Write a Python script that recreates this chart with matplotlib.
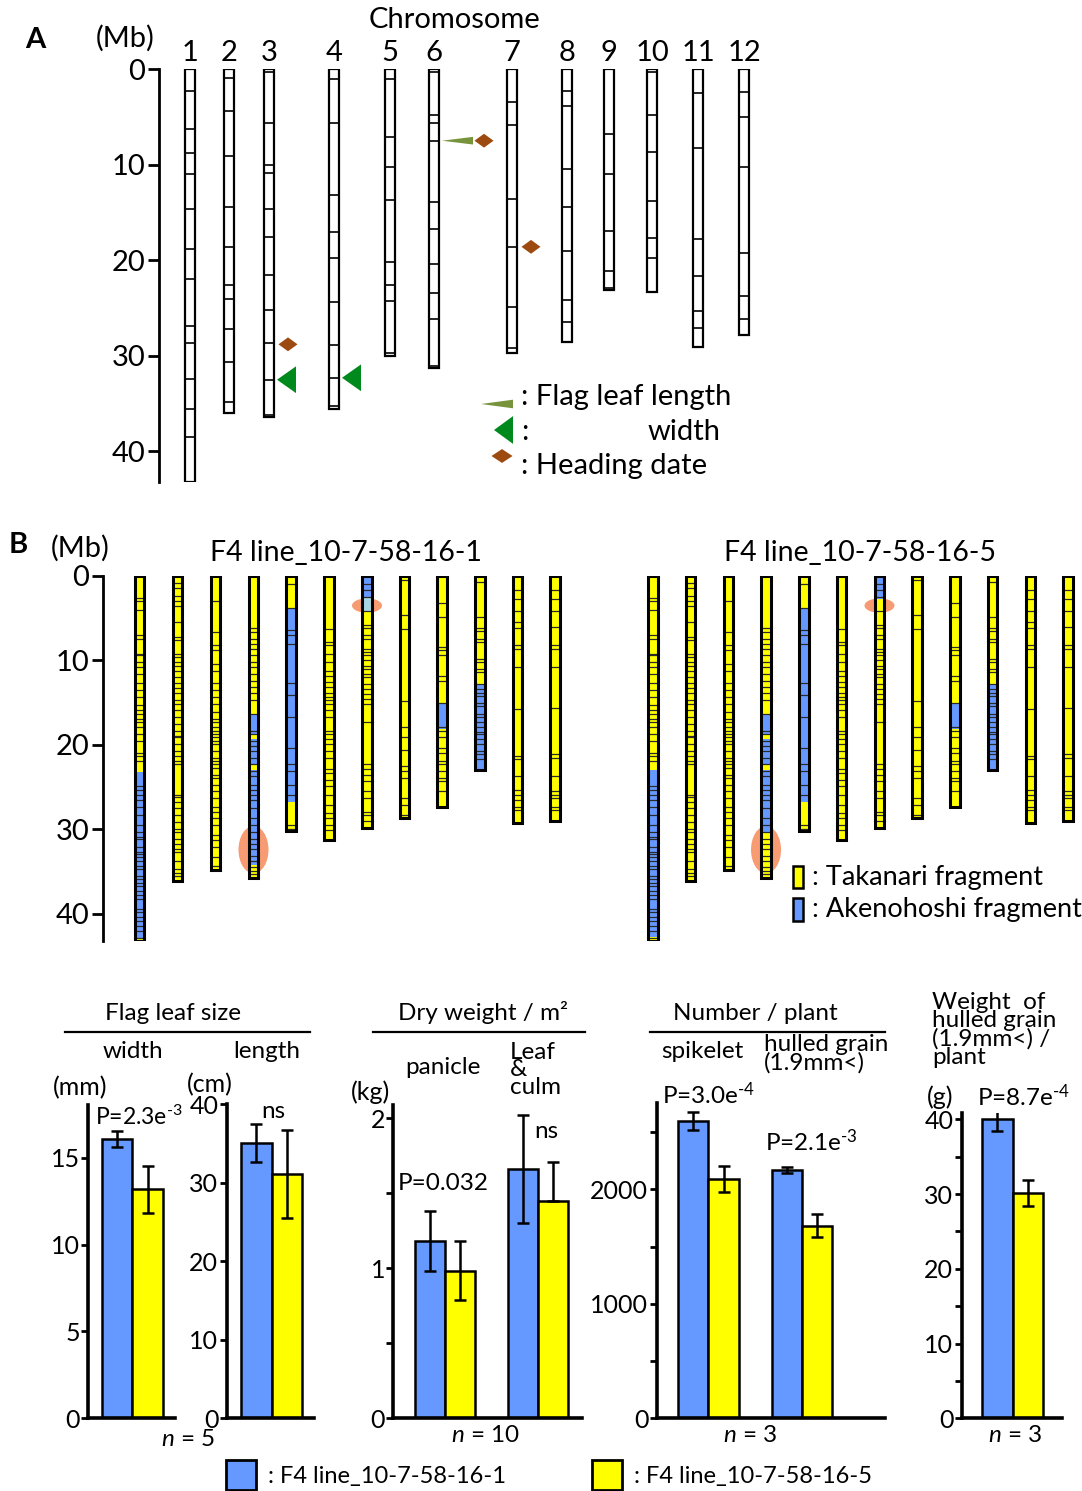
import matplotlib
matplotlib.use("Agg")
import matplotlib.pyplot as plt
from matplotlib.patches import Rectangle, Polygon, Ellipse
from matplotlib.lines import Line2D

plt.rcParams['font.family'] = ['Lato', 'DejaVu Sans']
plt.rcParams['mathtext.fontset'] = 'custom'
plt.rcParams['mathtext.rm'] = 'Lato'
plt.rcParams['mathtext.it'] = 'Lato:italic'

W, H = 1082, 1491

# --- Panel A data: chromosome map (Mb) ---
chrom_names = ['1', '2', '3', '4', '5', '6', '7', '8', '9', '10', '11', '12']
chrom_len_a = [43.2, 36.0, 36.4, 35.6, 30.0, 31.3, 29.75, 28.6, 23.1, 23.3, 29.1, 27.8]
markers_a = [
    [2.3, 6.3, 8.8, 11.0, 14.6, 18.8, 22.0, 26.9, 28.7, 32.4, 35.6, 38.5],
    [0.9, 4.4, 9.1, 14.4, 18.6, 22.6, 24.1, 27.2, 30.7, 34.8],
    [0.35, 5.6, 10.0, 10.9, 14.6, 17.6, 21.5, 25.2, 28.7, 32.5, 36.2],
    [1.0, 5.7, 13.2, 17.0, 19.8, 24.4, 28.9, 32.3, 35.3],
    [1.0, 7.1, 10.3, 13.7, 20.2, 22.6, 24.3, 29.7],
    [0.3, 4.8, 5.7, 7.5, 13.9, 16.7, 20.4, 23.4, 26.2, 31.1],
    [3.4, 5.9, 13.6, 18.6, 24.9, 29.2],
    [2.3, 3.9, 10.5, 14.4, 19.0, 24.2, 26.5],
    [6.8, 11.0, 16.9, 21.1, 22.9],
    [0.3, 4.8, 8.7, 13.8, 17.7, 19.8],
    [2.5, 8.3, 17.8, 21.7, 25.3, 27.1],
    [2.4, 5.0, 10.2, 19.2, 23.7, 26.2],
]
qtl_heading = [(3, 28.8), (6, 7.5), (7, 18.6)]
qtl_width = [(3, 32.5), (4, 32.3)]
qtl_length = [(6, 7.5)]

# --- Panel B data: graphical genotypes ---
chrom_len_b = [43.2, 36.1, 34.8, 35.7, 30.2, 31.3, 29.8, 28.6, 27.3, 23.0, 29.2, 29.0]
markers_b = [
    [2.6, 2.9, 4.0, 7.0, 7.4, 9.2, 9.4, 10.2, 10.8, 11.6, 12.7, 13.5, 14.3, 15.3, 15.9, 16.3, 16.9,
     17.3, 17.9, 18.7, 19.5, 20.9, 21.3, 21.9, 24.9, 25.3, 25.9, 26.5, 27.3, 28.3, 29.5, 30.3, 30.9,
     31.1, 32.1, 32.7, 32.9, 33.3, 33.7, 34.3, 34.7, 35.5, 35.9, 36.3, 36.7, 37.3, 37.8, 38.2, 39.4,
     39.8, 40.4, 40.8, 41.4, 42.0, 42.8],
    [0.8, 1.4, 2.4, 3.0, 3.6, 5.4, 7.2, 7.6, 9.2, 9.6, 10.2, 10.6, 11.2, 12.0, 12.7, 13.3, 13.9,
     14.7, 15.1, 15.9, 16.7, 17.5, 18.3, 18.9, 19.1, 19.9, 20.7, 21.3, 21.9, 22.3, 25.9, 26.1, 26.7,
     27.5, 28.3, 29.1, 29.9, 30.3, 31.1, 31.7, 32.3, 32.7, 33.7, 34.7, 35.1, 35.5],
    [3.0, 6.6, 8.2, 8.8, 10.4, 11.2, 12.7, 13.5, 14.3, 15.1, 16.1, 16.9, 17.3, 17.9, 18.3, 18.7,
     19.1, 19.5, 19.9, 20.7, 21.5, 21.9, 22.3, 22.7, 23.5, 23.9, 24.7, 25.5, 26.3, 27.3, 27.9, 28.7,
     29.5, 30.7, 31.3, 32.1, 33.3, 34.3],
    [6.2, 6.6, 7.4, 8.0, 8.6, 9.4, 10.2, 10.8, 11.6, 12.4, 13.1, 13.9, 14.7, 16.3, 18.3, 18.7, 19.5,
     20.1, 20.7, 21.5, 22.3, 23.1, 23.7, 24.7, 25.3, 25.9, 26.5, 27.5, 28.7, 29.5, 30.3, 31.1, 31.7,
     32.3, 33.1, 33.7, 34.5, 34.9, 35.3],
    [1.0, 3.8, 6.4, 7.0, 8.0, 12.7, 14.1, 16.7, 20.3, 22.3, 23.1, 24.7, 25.9, 29.5, 29.9],
    [6.3, 7.8, 8.2, 9.2, 10.2, 11.2, 11.8, 12.5, 13.1, 13.9, 14.3, 14.7, 15.1, 15.9, 16.7, 18.3,
     18.7, 19.3, 19.9, 20.7, 21.5, 22.9, 23.3, 24.1, 24.9, 25.9, 27.1, 28.1, 28.7, 29.5, 30.1],
    [0.9, 1.7, 2.5, 4.2, 5.8, 6.2, 7.0, 7.4, 8.6, 9.0, 9.4, 10.0, 10.6, 11.0, 11.6, 12.0, 12.8,
     13.4, 14.0, 14.6, 15.2, 17.3, 22.3, 22.9, 23.5, 24.3, 25.5, 26.3, 27.9, 28.3, 29.0],
    [0.5, 4.6, 6.3, 14.8, 17.9, 19.1, 20.6, 22.5, 23.1, 23.9, 26.3, 27.1, 28.3],
    [3.2, 4.8, 8.4, 8.8, 9.4, 11.8, 12.4, 15.0, 17.9, 18.3, 19.1, 20.3, 20.9, 21.9, 22.3, 23.1,
     23.9, 24.3, 25.5],
    [0.7, 4.8, 6.2, 6.5, 7.4, 7.8, 9.8, 10.2, 11.0, 11.4, 12.8, 13.4, 13.8, 14.2, 15.0, 15.4, 16.3,
     16.7, 17.3, 17.9, 18.5, 18.7, 19.3, 19.9, 20.7, 21.1, 21.7],
    [1.6, 2.7, 4.2, 5.4, 6.2, 8.2, 8.6, 10.8, 15.8, 21.3, 21.7, 23.7, 25.3, 25.9, 26.5, 27.3, 27.7],
    [1.6, 2.7, 4.2, 6.0, 8.2, 8.6, 10.8, 15.6, 21.1, 21.5, 23.7, 25.4, 25.9, 26.3, 27.3, 27.7],
]
# segments (start, end, genotype): T = Takanari, A = Akenohoshi, H = heterozygous
geno_line1 = [
    [(0, 23.2, 'T'), (23.2, 42.8, 'A'), (42.8, 43.2, 'T')],
    [(0, 36.1, 'T')],
    [(0, 34.8, 'T')],
    [(0, 16.3, 'T'), (16.3, 18.8, 'A'), (18.8, 19.3, 'T'), (19.3, 22.4, 'A'), (22.4, 23.0, 'T'),
     (23.0, 34.2, 'A'), (34.2, 35.7, 'T')],
    [(0, 3.8, 'T'), (3.8, 26.7, 'A'), (26.7, 30.2, 'T')],
    [(0, 31.3, 'T')],
    [(0, 2.6, 'A'), (2.6, 4.2, 'H'), (4.2, 29.8, 'T')],
    [(0, 28.6, 'T')],
    [(0, 15.0, 'T'), (15.0, 18.1, 'A'), (18.1, 27.3, 'T')],
    [(0, 12.8, 'T'), (12.8, 23.0, 'A')],
    [(0, 29.2, 'T')],
    [(0, 29.0, 'T')],
]
geno_line2 = [
    [(0, 23.0, 'T'), (23.0, 42.7, 'A'), (42.7, 43.2, 'T')],
    [(0, 36.1, 'T')],
    [(0, 34.8, 'T')],
    [(0, 16.4, 'T'), (16.4, 18.8, 'A'), (18.8, 19.3, 'T'), (19.3, 22.4, 'A'), (22.4, 23.0, 'T'),
     (23.0, 30.3, 'A'), (30.3, 35.7, 'T')],
    [(0, 3.95, 'T'), (3.95, 26.7, 'A'), (26.7, 30.2, 'T')],
    [(0, 31.3, 'T')],
    [(0, 2.7, 'A'), (2.7, 29.8, 'T')],
    [(0, 28.6, 'T')],
    [(0, 15.1, 'T'), (15.1, 18.1, 'A'), (18.1, 27.3, 'T')],
    [(0, 12.8, 'T'), (12.8, 23.0, 'A')],
    [(0, 29.2, 'T')],
    [(0, 29.0, 'T')],
]
qtl_regions_b = [(4, 32.4, 5.6), (7, 3.5, 1.7)]  # chrom, centre Mb, span Mb

# --- Bar chart data (mean, sd) ---
line_names = ['F4 line_10-7-58-16-1', 'F4 line_10-7-58-16-5']
flag_width = [16.1, 13.2]
flag_width_sd = [0.45, 1.35]
flag_length = [35.1, 31.1]
flag_length_sd = [2.4, 5.6]
dw_panicle = [1.18, 0.985]
dw_panicle_sd = [0.2, 0.195]
dw_leaf = [1.66, 1.45]
dw_leaf_sd = [0.36, 0.26]
n_spikelet = [2597, 2090]
n_spikelet_sd = [82, 110]
n_grain = [2169, 1682]
n_grain_sd = [30, 100]
grain_wt = [40.0, 30.15]
grain_wt_sd = [1.55, 1.7]

BLUE = '#6699FF'
YELLOW = '#FFFF00'
LIGHTBLUE = '#A9D6E5'
GENO_COL = {'T': YELLOW, 'A': BLUE, 'H': LIGHTBLUE}

FS_BIG = 21      # panel A / B labels
FS_BAR = 17.5    # bar chart labels

fig = plt.figure(figsize=(W / 100, H / 100), dpi=100)


def px_axes(left, top, right, bottom):
    return fig.add_axes([left / W, 1 - bottom / H, (right - left) / W, (bottom - top) / H])


def ftext(x, y, s, **kw):
    kw.setdefault('fontsize', FS_BAR)
    kw.setdefault('va', 'center')
    fig.text(x / W, 1 - y / H, s, **kw)


def fline(x1, x2, y):
    fig.add_artist(Line2D([x1 / W, x2 / W], [1 - y / H, 1 - y / H], color='black', lw=1.6,
                          transform=fig.transFigure))


def left_triangle(ax, x_tip, y, w, h, color):
    ax.add_patch(Polygon([(x_tip, y), (x_tip + w, y - h / 2), (x_tip + w, y + h / 2)],
                         closed=True, fc=color, ec='none', zorder=4))


def diamond(ax, xc, y, w, h, color):
    ax.add_patch(Polygon([(xc - w / 2, y), (xc, y - h / 2), (xc + w / 2, y), (xc, y + h / 2)],
                         closed=True, fc=color, ec='none', zorder=4))


# ---------------- Panel A ----------------
A_TOP, A_BOT, A_LEN = 69, 482, 43.2
a_mb = lambda ypx: (ypx - A_TOP) / (A_BOT - A_TOP) * A_LEN
chr_x_a = [190, 229, 269, 334, 390, 434, 512, 567, 609, 652, 698, 744]
axA = px_axes(159, A_TOP, W, A_BOT)
axA.set_xlim(159, W)
axA.set_ylim(A_LEN, 0)
for s in ['top', 'right', 'bottom']:
    axA.spines[s].set_visible(False)
axA.spines['left'].set_linewidth(2)
axA.set_xticks([])
axA.set_yticks([0, 10, 20, 30, 40])
axA.tick_params(axis='y', direction='out', length=8, width=2, labelsize=FS_BIG, pad=2)
w_a = 9.5
for i, x in enumerate(chr_x_a):
    axA.add_patch(Rectangle((x - w_a / 2, 0), w_a, chrom_len_a[i], fc='white', ec='black', lw=1.6, zorder=2))
    axA.hlines(markers_a[i], x - w_a / 2, x + w_a / 2, color='black', lw=1.2, zorder=3)
    axA.text(x, -0.3, chrom_names[i], ha='center', va='bottom', fontsize=FS_BIG)

OLIVE, GREEN, BROWN = '#77933C', '#008A1E', '#9C4A0F'
for c, mb in qtl_width:
    left_triangle(axA, chr_x_a[c - 1] + 8, mb, 19, 2.8, GREEN)
for c, mb in qtl_length:
    left_triangle(axA, chr_x_a[c - 1] + 8, mb, 31, 0.8, OLIVE)
for c, mb in qtl_heading:
    off = 50 if (c, mb) in [(q[0], q[1]) for q in qtl_length] else 19
    diamond(axA, chr_x_a[c - 1] + off, mb, 19, 1.45, BROWN)

# legend A
left_triangle(axA, 481, a_mb(404), 32, 0.9, OLIVE)
left_triangle(axA, 494, a_mb(430), 19, 2.9, GREEN)
diamond(axA, 502, a_mb(456), 21, 1.45, BROWN)
ftext(521, 397, ': Flag leaf length', fontsize=FS_BIG)
ftext(521, 432, ':', fontsize=FS_BIG)
ftext(648, 432, 'width', fontsize=FS_BIG)
ftext(521, 466, ': Heading date', fontsize=FS_BIG)

ftext(454, 20, 'Chromosome', ha='center', fontsize=FS_BIG)
ftext(125, 38, '(Mb)', ha='center', fontsize=FS_BIG)
ftext(35, 40, 'A', ha='center', fontsize=21, fontweight='bold')

# ---------------- Panel B ----------------
B_TOP, B_BOT, B_LEN = 576, 941, 43.2
b_mb = lambda ypx: (ypx - B_TOP) / (B_BOT - B_TOP) * B_LEN
chr_x_b1 = [139.5, 177.5, 215.5, 253.5, 291, 329, 367, 404.5, 442, 480, 517.5, 555]
chr_x_b2 = [653, 690.5, 728.5, 766, 804, 841.5, 879.5, 917, 955, 992.5, 1030.5, 1068]
axB = px_axes(103, B_TOP, W, B_BOT)
axB.set_xlim(103, W)
axB.set_ylim(B_LEN, 0)
for s in ['top', 'right', 'bottom']:
    axB.spines[s].set_visible(False)
axB.spines['left'].set_linewidth(2)
axB.set_xticks([])
axB.set_yticks([0, 10, 20, 30, 40])
axB.tick_params(axis='y', direction='out', length=8, width=2, labelsize=FS_BIG, pad=2)
w_b = 9.5
QTL_ORANGE = '#F79B73'
for xs, geno in [(chr_x_b1, geno_line1), (chr_x_b2, geno_line2)]:
    for i, x in enumerate(xs):
        for s0, s1, g in geno[i]:
            axB.add_patch(Rectangle((x - w_b / 2, s0), w_b, s1 - s0, fc=GENO_COL[g], ec='none', zorder=2))
        axB.hlines(markers_b[i], x - w_b / 2, x + w_b / 2, color='#2a2a2a', lw=0.9, zorder=3)
        axB.add_patch(Rectangle((x - w_b / 2, 0), w_b, chrom_len_b[i], fc='none', ec='black', lw=2.2, zorder=4))
    for c, mb, span in qtl_regions_b:
        axB.add_patch(Ellipse((xs[c - 1], mb), 30, span, fc=QTL_ORANGE, ec='none', zorder=1))

axB.add_patch(Rectangle((793, b_mb(866)), 10, b_mb(888) - b_mb(866), fc=YELLOW, ec='black', lw=1.8, zorder=4))
axB.add_patch(Rectangle((793, b_mb(898)), 10, b_mb(921) - b_mb(898), fc=BLUE, ec='black', lw=1.8, zorder=4))
ftext(812, 877, ': Takanari fragment', fontsize=19.5)
ftext(812, 909, ': Akenohoshi fragment', fontsize=19.5)
ftext(346, 553, line_names[0], ha='center', fontsize=20.5)
ftext(860, 553, line_names[1], ha='center', fontsize=20.5)
ftext(80, 548, '(Mb)', ha='center', fontsize=FS_BIG)
ftext(18, 545, 'B', ha='center', fontsize=21, fontweight='bold')

# ---------------- Bar charts ----------------
BASE = 1418.3


def bar_panel(left, top, right, ymax, xlim, xpos, means, sds, ticks, ticklabels, lower=None):
    ax = px_axes(left, top, right, BASE)
    ax.set_xlim(*xlim)
    ax.set_ylim(0, ymax)
    colors = [BLUE, YELLOW] * (len(means) // 2)
    ax.bar(xpos, means, width=1, color=colors, edgecolor='black', linewidth=1.8, zorder=2)
    lo = lower if lower is not None else sds
    ax.errorbar(xpos, means, yerr=[lo, sds], fmt='none', ecolor='black', elinewidth=1.8,
                capsize=4, capthick=1.8, zorder=3)
    for s in ['top', 'right']:
        ax.spines[s].set_visible(False)
    ax.spines['left'].set_linewidth(2.6)
    ax.spines['bottom'].set_linewidth(2.6)
    ax.set_xticks([])
    ax.set_yticks(ticks)
    ax.set_yticklabels(ticklabels)
    ax.tick_params(axis='y', direction='out', length=5, width=2, labelsize=18, pad=1)
    return ax


bar_panel(88.3, 1105, 175, 18.04, (-0.94, 1.9), [0, 1], flag_width, flag_width_sd,
          [0, 5, 10, 15], ['0', '5', '10', '15'])
bar_panel(226.7, 1104.3, 314, 40, (-0.97, 1.88), [0, 1], flag_length, flag_length_sd,
          [0, 10, 20, 30, 40], ['0', '10', '20', '30', '40'])
bar_panel(393.3, 1105, 581.7, 2.09, (-1.22, 5.06), [0, 1, 3.11, 4.11],
          dw_panicle + dw_leaf, dw_panicle_sd + dw_leaf_sd,
          [0, 0.5, 1, 1.5, 2], ['0', '', '1', '', '2'],
          lower=dw_panicle_sd + [dw_leaf_sd[0], 0])
bar_panel(656.7, 1103.3, 885, 2751, (-1.21, 6.33), [0, 1, 3.09, 4.09],
          n_spikelet + n_grain, n_spikelet_sd + n_grain_sd,
          [0, 500, 1000, 1500, 2000, 2500], ['0', '', '1000', '', '2000', ''])
bar_panel(961.7, 1113.3, 1061.7, 40.8, (-1.17, 2.1), [0, 1], grain_wt, grain_wt_sd,
          [0, 5, 10, 15, 20, 25, 30, 35, 40], ['0', '', '10', '', '20', '', '30', '', '40'])

# headings
ftext(173, 1013, 'Flag leaf size', ha='center')
fline(65, 310, 1031.5)
ftext(133, 1052, 'width', ha='center')
ftext(267, 1052, 'length', ha='center')
ftext(80, 1088, '(mm)', ha='center', fontsize=18)
ftext(210, 1085, '(cm)', ha='center', fontsize=18)
ftext(95, 1117, r'P=2.3e$^{\text{-3}}$', ha='left', fontsize=16.5)
ftext(273, 1111, 'ns', ha='center')
ftext(188, 1440, '$n$ = 5', ha='center')

ftext(483, 1013, 'Dry weight / m²', ha='center')
fline(373, 585, 1031.5)
ftext(443, 1067, 'panicle', ha='center')
ftext(510, 1070, 'Leaf\n&\nculm', ha='left', linespacing=0.8)
ftext(370, 1092, '(kg)', ha='center', fontsize=18)
ftext(443, 1183, 'P=0.032', ha='center')
ftext(546, 1131, 'ns', ha='center')
ftext(485, 1436, '$n$ = 10', ha='center')

ftext(755, 1013, 'Number / plant', ha='center')
fline(650, 885, 1031.5)
ftext(702, 1052, 'spikelet', ha='center')
ftext(764, 1054, 'hulled grain\n(1.9mm<)', ha='left', linespacing=0.8)
ftext(662, 1095, r'P=3.0e$^{\text{-4}}$', ha='left')
ftext(765, 1142, r'P=2.1e$^{\text{-3}}$', ha='left')
ftext(750, 1436, '$n$ = 3', ha='center')

ftext(932, 1030, 'Weight  of\nhulled grain\n(1.9mm<) /\nplant', ha='left', linespacing=0.82)
ftext(940, 1097, '(g)', ha='center', fontsize=18)
ftext(977, 1097, r'P=8.7e$^{\text{-4}}$', ha='left')
ftext(1015, 1436, '$n$ = 3', ha='center')

# bottom legend
for x0, col, name in [(226, BLUE, line_names[0]), (592, YELLOW, line_names[1])]:
    fig.add_artist(Rectangle((x0 / W, 1 - 1490 / H), 30 / W, 30 / H, fc=col, ec='black', lw=2,
                             transform=fig.transFigure))
    ftext(x0 + 42, 1476, ': ' + name, ha='left', fontsize=17)

fig.savefig('out.png', dpi=100)
